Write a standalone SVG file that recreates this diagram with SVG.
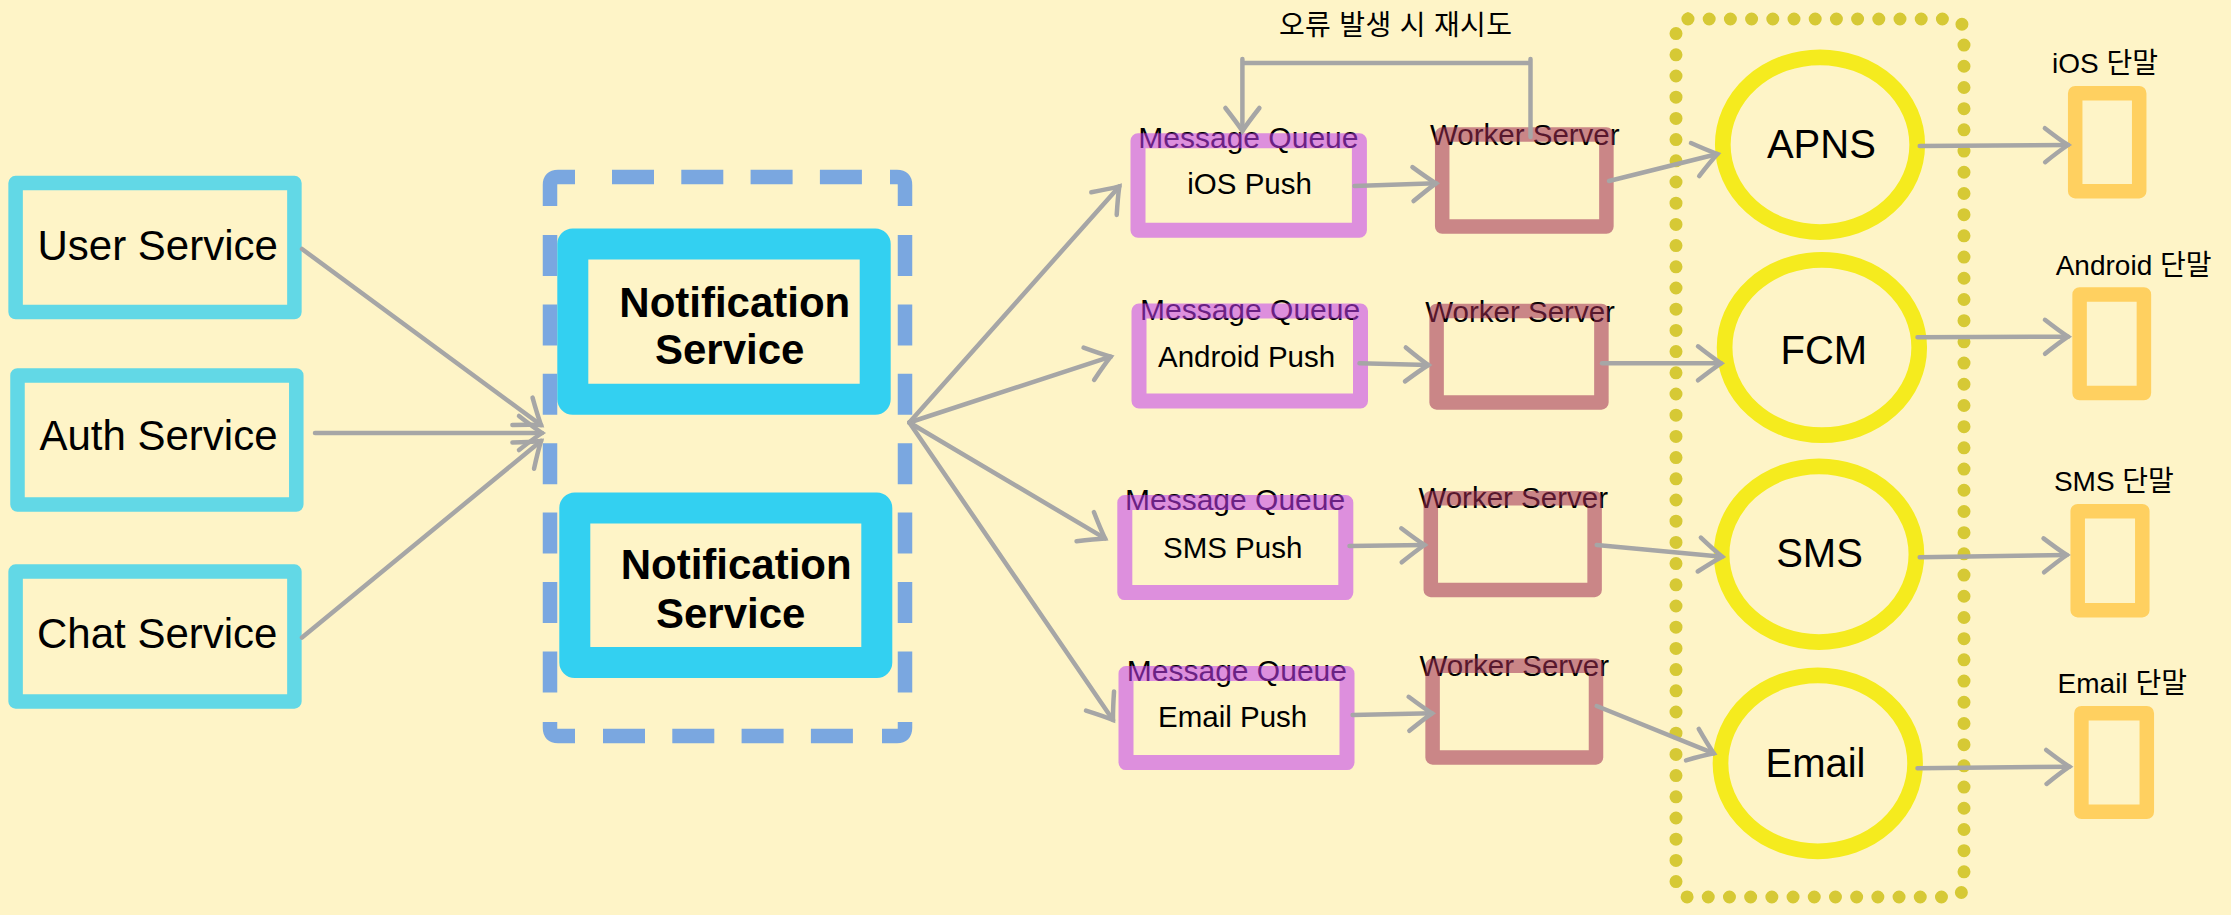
<svg xmlns="http://www.w3.org/2000/svg" width="2231" height="915" viewBox="0 0 2231 915">
<defs>
<style>
.svc{fill:none;stroke:#62d8e6;stroke-width:14.5;stroke-linejoin:round}
.ns{fill:none;stroke:#33d0f1;stroke-width:31;stroke-linejoin:round}
.mq{fill:none;stroke:#c13cee;stroke-opacity:0.55;stroke-width:15;stroke-linejoin:round}
.wk{fill:none;stroke:#9e2c52;stroke-opacity:0.55;stroke-width:14.5;stroke-linejoin:round}
.gw{fill:none;stroke:#f5eb1e;stroke-width:15.7}
.tm{fill:none;stroke:#ffd060;stroke-width:14.5;stroke-linejoin:round}
.dsh{fill:none;stroke:#7aa7e0;stroke-width:14.5}
.t{font-family:"Liberation Sans","Noto Sans CJK KR",sans-serif;fill:#000}
.svct{font-size:42px}
.nst{font-size:42px;font-weight:bold}
.lbl{font-size:30px}
.wl{font-size:29.5px}
.in{font-size:29.5px}
.gwt{font-size:40px;text-anchor:middle}
.tml{font-size:28px}
.ar{fill:none;stroke:#a6a6a6;stroke-width:4.5;stroke-linecap:round;marker-end:url(#ah)}
</style>
<marker id="ah" viewBox="-30 -22 34 44" refX="0" refY="0" markerWidth="34" markerHeight="44" markerUnits="userSpaceOnUse" orient="auto" overflow="visible">
<path d="M-23,-17 Q-9,-6 0,0 Q-9,6 -23,17" fill="none" stroke="#a6a6a6" stroke-width="4.5" stroke-linecap="round"/>
</marker>
</defs>
<rect x="0" y="0" width="2231" height="915" fill="#fef4c7"/>

<g id="user-service">
<rect class="svc" x="15.6" y="183.1" width="278.8" height="129"/>
<text class="t svct" x="37.5" y="259.9">User Service</text>
</g>
<g id="auth-service">
<rect class="svc" x="17.5" y="375.5" width="278.8" height="129"/>
<text class="t svct" x="39.4" y="450.4">Auth Service</text>
</g>
<g id="chat-service">
<rect class="svc" x="15.6" y="571.6" width="278.8" height="129.8"/>
<text class="t svct" x="37" y="647.6">Chat Service</text>
</g>

<g id="notification-cluster">
<path class="dsh" d="M550,206 V185 Q550,177 558,177 H575"/>
<path class="dsh" d="M612,177 H862" stroke-dasharray="42 27.3"/>
<path class="dsh" d="M890,177 H897 Q905,177 905,185 V206"/>
<path class="dsh" d="M550,235 V692.7" stroke-dasharray="41 28.4"/>
<path class="dsh" d="M905,235 V692.7" stroke-dasharray="41 28.4"/>
<path class="dsh" d="M550,722 V728 Q550,736 558,736 H575"/>
<path class="dsh" d="M603,736 H853" stroke-dasharray="42 27.3"/>
<path class="dsh" d="M882,736 H897 Q905,736 905,728 V722"/>
</g>
<g id="notification-service-1">
<rect class="ns" x="572.8" y="244" width="302.4" height="155.3"/>
<text class="t nst" x="619.3" y="316.5">Notification</text>
<text class="t nst" x="655" y="364.3">Service</text>
</g>
<g id="notification-service-2">
<rect class="ns" x="574.8" y="508" width="302" height="154.5"/>
<text class="t nst" x="620.7" y="579.4">Notification</text>
<text class="t nst" x="656" y="628.4">Service</text>
</g>

<g id="mq-ios">
<text class="t lbl" x="1138.3" y="148.3">Message Queue</text>
<rect class="mq" x="1138" y="140.7" width="221.4" height="89.6"/>
<text class="t in" x="1187.3" y="194.3">iOS Push</text>
</g>
<g id="mq-android">
<text class="t lbl" x="1140" y="320">Message Queue</text>
<rect class="mq" x="1139" y="311" width="221.5" height="90"/>
<text class="t in" x="1158" y="366.7">Android Push</text>
</g>
<g id="mq-sms">
<text class="t lbl" x="1125" y="510">Message Queue</text>
<rect class="mq" x="1124.8" y="502.6" width="221" height="90"/>
<text class="t in" x="1163" y="558.3">SMS Push</text>
</g>
<g id="mq-email">
<text class="t lbl" x="1126.8" y="680.7">Message Queue</text>
<rect class="mq" x="1126" y="673.6" width="221" height="89"/>
<text class="t in" x="1158" y="727.3">Email Push</text>
</g>

<g id="worker-ios">
<text class="t wl" x="1430" y="145">Worker Server</text>
<rect class="wk" x="1442.2" y="134.6" width="164.2" height="92"/>
</g>
<g id="worker-android">
<text class="t wl" x="1425.3" y="321.7">Worker Server</text>
<rect class="wk" x="1436.6" y="310.9" width="164.8" height="91.5"/>
</g>
<g id="worker-sms">
<text class="t wl" x="1418.4" y="508.3">Worker Server</text>
<rect class="wk" x="1430.8" y="498.2" width="163.8" height="91.7"/>
</g>
<g id="worker-email">
<text class="t wl" x="1419.5" y="676">Worker Server</text>
<rect class="wk" x="1432.6" y="665.8" width="163.4" height="91.6"/>
</g>

<g id="gateway-cluster">
<rect x="1676" y="19" width="288" height="878" rx="12" fill="none" stroke="#d6c935" stroke-width="13" stroke-dasharray="0 21.2" stroke-linecap="round"/>
</g>
<g id="apns">
<ellipse class="gw" cx="1820" cy="144.7" rx="97.2" ry="87.4"/>
<text class="t gwt" x="1821.4" y="158.3">APNS</text>
</g>
<g id="fcm">
<ellipse class="gw" cx="1821.9" cy="347.5" rx="97.3" ry="87.7"/>
<text class="t gwt" x="1823.8" y="364.3">FCM</text>
</g>
<g id="sms">
<ellipse class="gw" cx="1819" cy="554.2" rx="97.4" ry="87.9"/>
<text class="t gwt" x="1819.5" y="566.7">SMS</text>
</g>
<g id="email">
<ellipse class="gw" cx="1817.8" cy="763.3" rx="97.3" ry="88"/>
<text class="t gwt" x="1815.5" y="777.3">Email</text>
</g>

<g id="device-ios">
<text class="t tml" x="2052" y="72.7">iOS 단말</text>
<rect class="tm" x="2075.2" y="93.2" width="64" height="98"/>
</g>
<g id="device-android">
<text class="t tml" x="2055.7" y="275">Android 단말</text>
<rect class="tm" x="2079.6" y="294.5" width="64.3" height="98.5"/>
</g>
<g id="device-sms">
<text class="t tml" x="2053.9" y="490.7">SMS 단말</text>
<rect class="tm" x="2077.7" y="511.2" width="64.6" height="99"/>
</g>
<g id="device-email">
<text class="t tml" x="2057.6" y="692.7">Email 단말</text>
<rect class="tm" x="2081.4" y="713.2" width="65.4" height="98.6"/>
</g>

<g id="connectors">
<path class="ar" d="M302,249 L541,425"/>
<path class="ar" d="M315,433 L542,433"/>
<path class="ar" d="M302,637.6 L541,441"/>
<path class="ar" d="M909.3,422.5 L1119.3,186.4"/>
<path class="ar" d="M909.3,422.5 L1110.7,356.7"/>
<path class="ar" d="M909.3,422.5 L1105,538.4"/>
<path class="ar" d="M909.3,422.5 L1113,720"/>
<path class="ar" d="M1354.5,186 L1436,183.3"/>
<path class="ar" d="M1359.5,363.3 L1428.4,365"/>
<path class="ar" d="M1349.5,546 L1424.5,545"/>
<path class="ar" d="M1352.6,715 L1432,713.3"/>
<path class="ar" d="M1609,181 L1717.4,154"/>
<path class="ar" d="M1602,363.3 L1721,363.3"/>
<path class="ar" d="M1596.7,545 L1722.2,556.7"/>
<path class="ar" d="M1596.7,706 L1713.7,753.3"/>
<path class="ar" d="M1919.7,146 L2068,145"/>
<path class="ar" d="M1917.5,337.3 L2068,336.7"/>
<path class="ar" d="M1919.7,557.3 L2066.8,555"/>
<path class="ar" d="M1917.5,768.3 L2069.4,766.7"/>
<path class="ar" d="M1530.5,137 V59 M1530.5,63 H1242.4 M1242.4,59 V131"/>
<text class="t" x="1279" y="35" font-size="28" textLength="233" lengthAdjust="spacing">오류 발생 시 재시도</text>
</g>
</svg>
